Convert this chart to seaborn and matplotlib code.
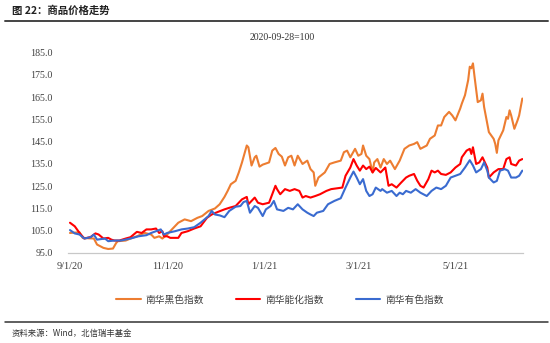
import numpy as np
import pandas as pd
import matplotlib
matplotlib.use("Agg")
import matplotlib.pyplot as plt
import matplotlib.dates as mdates
from matplotlib.lines import Line2D
import seaborn as sns

# ---------------- data (days since 2020-09-01, index value) ----------------
start_date = "2020-09-01"
series_names = ["南华黑色指数", "南华能化指数", "南华有色指数"]

black_days = [0, 6, 8, 12, 15, 17, 21, 24, 27, 29, 30, 35, 38, 42, 45, 47, 51, 53, 56, 58,
              61, 64, 68, 72, 76, 80, 83, 87, 91, 94, 97, 99, 101, 104, 106, 108, 111, 112, 114, 116,
              117, 119, 121, 125, 127, 129, 131, 133, 135, 137, 139, 141, 143, 146, 149, 151, 153, 154, 156, 160,
              163, 166, 170, 172, 174, 176, 179, 181, 183, 184, 186, 188, 190, 191, 193, 195, 197, 199, 201, 204,
              207, 210, 213, 216, 218, 220, 224, 226, 229, 231, 233, 235, 238, 240, 242, 245, 246, 248, 250, 251,
              252, 253, 254, 256, 258, 259, 260, 263, 266, 267, 268, 269, 272, 274, 275, 276, 277, 279, 281, 282, 284]
black_vals = [104.0, 104.3, 101.8, 101.6, 101.5, 98.8, 97.3, 96.8, 97.0, 99.5, 100.3, 100.6, 101.5, 102.5, 103.5, 104.0, 103.3, 101.8, 102.5, 101.5,
              103.3, 105.6, 108.6, 110.1, 109.3, 110.8, 111.6, 113.9, 115.0, 116.9, 120.2, 122.9, 125.9, 127.4, 131.2, 135.7, 143.3, 142.5, 134.3, 138.0,
              138.7, 133.8, 134.7, 135.7, 141.0, 142.2, 139.5, 138.3, 134.3, 138.0, 138.7, 134.3, 138.7, 135.0, 136.5, 132.7, 131.2, 125.2, 128.9, 131.2,
              135.0, 135.7, 136.5, 140.3, 141.0, 138.0, 141.8, 138.7, 139.5, 143.3, 138.7, 137.2, 131.2, 135.7, 137.2, 133.4, 137.2, 135.0, 136.5, 132.7,
              136.5, 141.8, 143.3, 144.0, 144.8, 141.8, 143.3, 146.3, 147.8, 152.3, 152.3, 156.1, 158.4, 156.8, 154.6, 159.9, 162.1, 165.9, 172.7, 178.7,
              178.0, 180.2, 174.2, 162.8, 163.6, 166.6, 160.6, 149.3, 146.3, 144.0, 140.0, 145.6, 150.1, 156.1, 155.3, 159.1, 156.8, 150.8, 154.6, 156.8, 164.4]

energy_days = [0, 3, 6, 9, 13, 16, 18, 21, 24, 26, 28, 31, 35, 38, 42, 45, 48, 51, 54, 56,
               58, 59, 61, 63, 68, 70, 74, 78, 82, 86, 89, 93, 97, 100, 104, 108, 111, 112, 116, 118,
               121, 125, 127, 129, 130, 132, 135, 138, 141, 144, 146, 148, 151, 154, 157, 161, 164, 168, 171, 173,
               176, 178, 180, 182, 184, 186, 188, 190, 192, 195, 197, 198, 200, 202, 205, 208, 211, 213, 216, 218,
               220, 222, 225, 227, 229, 231, 233, 236, 239, 242, 245, 246, 249, 251, 252, 253, 255, 257, 259, 262,
               263, 266, 269, 272, 273, 274, 276, 277, 280, 282, 284]
energy_vals = [108.6, 107.0, 104.0, 101.5, 102.2, 103.8, 103.3, 101.5, 101.8, 101.0, 100.6, 100.6, 101.5, 102.1, 104.5, 104.0, 105.6, 105.6, 106.0, 104.0,
               104.8, 102.5, 102.5, 101.8, 101.8, 104.0, 104.8, 106.0, 107.0, 110.8, 112.3, 113.5, 114.6, 115.3, 116.1, 119.1, 120.2, 116.9, 119.9, 117.6,
               116.9, 117.6, 121.4, 125.2, 123.7, 121.4, 123.7, 122.9, 123.7, 122.9, 119.9, 120.6, 119.9, 120.6, 121.4, 122.9, 123.7, 124.1, 124.4, 129.7,
               133.4, 137.2, 134.3, 132.0, 134.3, 132.7, 133.8, 131.2, 133.2, 131.2, 132.7, 133.4, 125.2, 125.9, 124.4, 126.7, 128.9, 129.7, 130.5, 127.5,
               125.2, 124.4, 128.2, 132.0, 131.2, 132.0, 130.5, 130.1, 131.2, 133.4, 135.0, 138.0, 141.0, 141.8, 139.5, 142.5, 135.0, 135.7, 138.0, 133.4,
               128.9, 131.2, 132.7, 132.7, 135.0, 137.2, 138.0, 135.0, 134.3, 136.5, 137.2]

metal_days = [0, 3, 6, 9, 13, 15, 17, 22, 24, 28, 32, 38, 43, 48, 51, 54, 57, 59, 61, 66,
              70, 74, 78, 82, 87, 89, 91, 94, 97, 100, 104, 107, 109, 111, 113, 116, 118, 121, 123, 126,
              128, 130, 134, 137, 140, 143, 146, 149, 151, 153, 155, 159, 162, 166, 170, 173, 176, 178, 180, 182,
              184, 186, 188, 190, 192, 195, 196, 199, 202, 205, 207, 209, 211, 214, 217, 220, 224, 227, 230, 233,
              236, 239, 242, 245, 248, 251, 253, 255, 258, 260, 262, 263, 265, 266, 268, 270, 273, 275, 277, 280, 282, 284]
metal_vals = [105.3, 103.8, 103.3, 101.5, 102.1, 103.3, 101.0, 101.5, 100.3, 100.6, 100.6, 101.5, 102.5, 103.0, 104.0, 104.8, 105.6, 103.3, 104.0, 104.8,
              105.6, 106.0, 106.6, 108.6, 111.6, 113.9, 112.3, 111.9, 111.1, 113.9, 115.8, 116.1, 117.9, 118.4, 113.1, 116.1, 115.3, 111.6, 114.6, 116.1,
              118.4, 114.6, 113.9, 115.3, 114.6, 116.9, 114.6, 113.1, 112.3, 111.6, 113.1, 113.9, 116.9, 118.4, 119.6, 124.4, 128.9, 131.6, 128.9, 125.9,
              128.2, 122.9, 120.6, 121.4, 124.4, 122.9, 123.7, 122.1, 122.9, 120.6, 122.1, 121.4, 122.9, 122.1, 123.7, 122.1, 120.6, 122.9, 124.4, 123.7,
              125.2, 128.9, 129.7, 130.5, 133.4, 136.7, 134.3, 131.2, 132.7, 135.7, 132.0, 128.9, 127.4, 126.7, 127.4, 132.0, 132.7, 132.0, 128.9, 128.9, 129.7, 132.0]

tick_dates = ["2020-09-01", "2020-11-01", "2021-01-01", "2021-03-01", "2021-05-01"]
tick_labels = ["9/1/20", "11/1/20", "1/1/21", "3/1/21", "5/1/21"]
y_ticks = [95, 105, 115, 125, 135, 145, 155, 165, 175, 185]

title_text = "图 22：商品价格走势"
subtitle_text = "2020-09-28=100"
source_text = "资料来源：Wind，北信瑞丰基金"

colors = ["#ED7D31", "#FF0000", "#3A6BD0"]

# ---------------- build long table ----------------
t0 = pd.Timestamp(start_date)
frames = []
for name, d, v in zip(series_names,
                      [black_days, energy_days, metal_days],
                      [black_vals, energy_vals, metal_vals]):
    frames.append(pd.DataFrame({"date": t0 + pd.to_timedelta(d, unit="D"),
                                "value": v, "series": name}))
df = pd.concat(frames, ignore_index=True)

# ---------------- plot ----------------
sns.set_theme(style="white")
plt.rcParams["font.family"] = ["Noto Sans CJK SC", "DejaVu Sans"]

fig = plt.figure(figsize=(5.5, 3.43), dpi=100)
ax = fig.add_axes([0.1236, 0.2624, 0.8273, 0.584])

sns.lineplot(data=df, x="date", y="value", hue="series", hue_order=series_names,
             palette=colors, estimator=None, linewidth=1.5, ax=ax, sort=True)

ax.set_xlim(pd.Timestamp("2020-08-30 18:00"), pd.Timestamp("2021-06-12 10:00"))
ax.set_ylim(95, 185)
ax.set_yticks(y_ticks)
ax.set_yticklabels([f"{t:.1f}" for t in y_ticks], family="Liberation Serif",
                   fontsize=7.2, color="#404040")
ax.set_xticks([pd.Timestamp(t) for t in tick_dates])
ax.set_xticklabels(tick_labels, family="Liberation Serif", fontsize=7.4, color="#404040")
ax.set_xlabel("")
ax.set_ylabel("")

for s in ["left", "top", "right"]:
    ax.spines[s].set_visible(False)
ax.spines["bottom"].set_color("#C8C8C8")
ax.spines["bottom"].set_linewidth(0.9)
ax.tick_params(axis="y", length=0, pad=11)
ax.tick_params(axis="x", direction="out", length=3.5, width=0.8, color="#C8C8C8", pad=3)
ax.grid(False)

sns.move_legend(ax, "center", bbox_to_anchor=(0.466, -0.234), ncol=3, frameon=False,
                title=None, fontsize=7, handlelength=2.5, handletextpad=0.5,
                columnspacing=3.3)
for txt in ax.get_legend().get_texts():
    txt.set_color("#404040")

# texts and rules
fig.text(12 / 550, 1 - 10.5 / 343, title_text, fontsize=7.5, fontweight="bold",
         color="#222222", va="center", ha="left")
fig.add_artist(Line2D([5 / 550, 548 / 550], [1 - 21 / 343] * 2, color="#444444", lw=1.4))
fig.text(0.5125, 1 - 38 / 343, subtitle_text, fontsize=7, family="Liberation Serif",
         color="#333333", ha="center", va="center")
fig.add_artist(Line2D([5 / 550, 548 / 550], [1 - 322 / 343] * 2, color="#333333", lw=1.1))
fig.text(12 / 550, 1 - 333 / 343, source_text, fontsize=6, color="#333333",
         va="center", ha="left")

fig.savefig("out.png", dpi=100)
